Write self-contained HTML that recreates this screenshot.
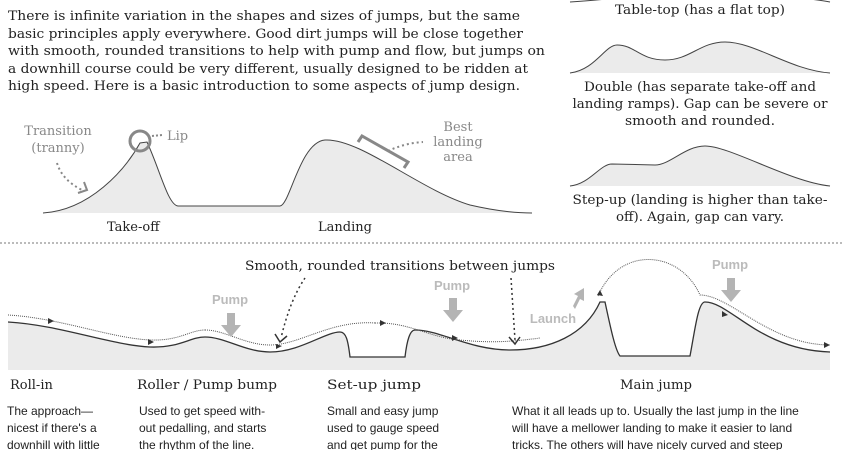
<!DOCTYPE html>
<html><head><meta charset="utf-8"><style>
html,body{margin:0;padding:0;background:#fff}
svg{display:block}
.s{font-family:"DejaVu Serif","Liberation Serif",serif;fill:#222}
.g{font-family:"DejaVu Serif","Liberation Serif",serif;fill:#888}
.n{font-family:"Liberation Sans",sans-serif;fill:#222}
.p{font-family:"Liberation Sans",sans-serif;fill:#bbb;font-weight:bold}
</style></head><body>
<svg width="843" height="450" viewBox="0 0 843 450" xmlns="http://www.w3.org/2000/svg">
<!-- intro text -->
<g class="s" font-size="13">
<text x="8" y="20" textLength="512" lengthAdjust="spacingAndGlyphs">There is infinite variation in the shapes and sizes of jumps, but the same</text>
<text x="8" y="38" textLength="515" lengthAdjust="spacingAndGlyphs">basic principles apply everywhere. Good dirt jumps will be close together</text>
<text x="8" y="55" textLength="537" lengthAdjust="spacingAndGlyphs">with smooth, rounded transitions to help with pump and flow, but jumps on</text>
<text x="8" y="73" textLength="520" lengthAdjust="spacingAndGlyphs">a downhill course could be very different, usually designed to be ridden at</text>
<text x="8" y="90" textLength="512" lengthAdjust="spacingAndGlyphs">high speed. Here is a basic introduction to some aspects of jump design.</text>
</g>
<!-- right column -->
<path d="M570,2 Q600,0 615,-2 M800,-2 Q820,0 830,2" stroke="#444" fill="none"/>
<text class="s" x="700" y="14" font-size="13" text-anchor="middle" textLength="170" lengthAdjust="spacingAndGlyphs">Table-top (has a flat top)</text>
<path d="M570,73 C595,70 605,45 617,45 C635,45 640,60 665,60 C690,60 700,42 725,42 C755,42 790,70 830,73 Z" fill="#ebebeb"/>
<path d="M570,73 C595,70 605,45 617,45 C635,45 640,60 665,60 C690,60 700,42 725,42 C755,42 790,70 830,73" stroke="#444" fill="none"/>
<g class="s" font-size="13" text-anchor="middle">
<text x="700" y="91" textLength="232" lengthAdjust="spacingAndGlyphs">Double (has separate take-off and</text>
<text x="700" y="108" textLength="255" lengthAdjust="spacingAndGlyphs">landing ramps). Gap can be severe or</text>
<text x="700" y="125" textLength="150" lengthAdjust="spacingAndGlyphs">smooth and rounded.</text>
</g>
<path d="M570,186 C590,184 600,164 612,164 L655,165 C670,165 685,146 705,146 C730,146 790,182 830,186 Z" fill="#ebebeb"/>
<path d="M570,186 C590,184 600,164 612,164 L655,165 C670,165 685,146 705,146 C730,146 790,182 830,186" stroke="#444" fill="none"/>
<g class="s" font-size="13" text-anchor="middle">
<text x="700" y="204" textLength="255" lengthAdjust="spacingAndGlyphs">Step-up (landing is higher than take-</text>
<text x="700" y="221" textLength="168" lengthAdjust="spacingAndGlyphs">off). Again, gap can vary.</text>
</g>
<!-- left diagram -->
<path d="M43,213 C90,210 125,170 140,143 L147,142 C160,170 168,205 178,206 L280,206 C290,205 300,142 325,140 C360,138 420,190 470,205 C500,212 520,213 532,213 Z" fill="#ebebeb"/>
<path d="M43,213 C90,210 125,170 140,143 L147,142 C160,170 168,205 178,206 L280,206 C290,205 300,142 325,140 C360,138 420,190 470,205 C500,212 520,213 532,213" stroke="#444" fill="none"/>
<circle cx="140" cy="141" r="10" stroke="#888" stroke-width="3" fill="none"/>
<path d="M152,136 L162,135" stroke="#888" stroke-width="2" stroke-dasharray="2,2"/>
<text class="g" x="167" y="140" font-size="13">Lip</text>
<text class="g" x="58" y="135" font-size="13" text-anchor="middle">Transition</text>
<text class="g" x="58" y="152" font-size="13" text-anchor="middle">(tranny)</text>
<path d="M57,163 Q62,180 82,190" stroke="#888" stroke-width="2" stroke-dasharray="2,3" fill="none"/>
<path d="M78,193 L87,190 L84,182" stroke="#888" stroke-width="2" fill="none"/>
<path d="M358,142 L362,136 L408,162 L404,168" stroke="#888" stroke-width="3" fill="none"/>
<path d="M388,151 Q405,143 423,142" stroke="#888" stroke-width="2" stroke-dasharray="2,3" fill="none"/>
<g class="g" font-size="13" text-anchor="middle">
<text x="458" y="131">Best</text><text x="458" y="146">landing</text><text x="458" y="161">area</text>
</g>
<text class="s" x="107" y="231" font-size="13">Take-off</text>
<text class="s" x="318" y="231" font-size="13">Landing</text>
<line x1="0" y1="243" x2="843" y2="243" stroke="#777" stroke-dasharray="2,2"/>
<!-- bottom course -->
<path d="M8,322 C60,325 110,345 150,347 C180,348 190,337 205,337 C225,337 245,352 270,352 C300,352 325,332 340,332 C346,332 348,340 350,357 L405,357 C407,340 410,330 415,330 C440,330 470,350 510,350 C550,350 585,335 600,302 L605,302 C610,325 615,350 620,356 L690,356 C695,330 698,302 705,302 C730,302 760,350 830,352 L830,370 L8,370 Z" fill="#ebebeb"/>
<path d="M8,322 C60,325 110,345 150,347 C180,348 190,337 205,337 C225,337 245,352 270,352 C300,352 325,332 340,332 C346,332 348,340 350,357 L405,357 C407,340 410,330 415,330 C440,330 470,350 510,350 C550,350 585,335 600,302 L605,302 C610,325 615,350 620,356 L690,356 C695,330 698,302 705,302 C730,302 760,350 830,352" stroke="#333" fill="none" stroke-width="1.3"/>
<path d="M8,315 C60,318 110,338 150,340 C180,341 190,330 205,330" stroke="#555" stroke-dasharray="1,1" fill="none"/>
<path d="M205,330 C225,330 245,345 270,345 C300,345 330,320 375,323" stroke="#555" stroke-dasharray="1,1" fill="none"/>
<path d="M375,323 C410,322 430,338 460,340 C490,343 510,342 540,338" stroke="#555" stroke-dasharray="1,1" fill="none"/>
<path d="M598,296 C620,245 680,250 700,295 C730,295 770,345 830,345" stroke="#555" stroke-dasharray="1,1" fill="none"/>
<path d="M48,318 l6,3 l-6,3z M148,339 l6,3 l-6,3z M276,344 l6,2 l-6,3z M380,320 l6,3 l-6,3z M452,335 l6,3 l-6,3z M600,290 l3,6 l-6,-1z M722,311 l6,4 l-6,2z M824,342 l6,3 l-6,3z" fill="#333"/>
<!-- pump arrows -->
<g fill="#b4b4b4">
<path d="M227,313 h8 v12 h6 l-10,12 l-10,-12 h6z"/>
<path d="M449,298 h8 v12 h6 l-10,12 l-10,-12 h6z"/>
<path d="M727,278 h8 v12 h6 l-10,12 l-10,-12 h6z"/>
<path d="M573,306 l5,-10 l-4,-2 l10,-6 l0,13 l-4,-2 l-5,10z"/>
</g>
<g class="p" font-size="13" text-anchor="middle">
<text x="230" y="304">Pump</text><text x="452" y="290">Pump</text><text x="730" y="269">Pump</text><text x="553" y="323">Launch</text>
</g>
<text class="s" x="400" y="270" font-size="13" text-anchor="middle" textLength="310" lengthAdjust="spacingAndGlyphs">Smooth, rounded transitions between jumps</text>
<path d="M305,278 Q290,300 281,338" stroke="#333" stroke-dasharray="2,3" fill="none" stroke-width="1.5"/>
<path d="M275,334 L280,342 L287,336" stroke="#333" stroke-width="1.5" fill="none"/>
<path d="M511,278 L515,340" stroke="#333" stroke-dasharray="2,3" fill="none" stroke-width="1.5"/>
<path d="M509,337 L515,344 L520,337" stroke="#333" stroke-width="1.5" fill="none"/>
<g class="s" font-size="13">
<text x="10" y="389">Roll-in</text><text x="137" y="389" textLength="140" lengthAdjust="spacingAndGlyphs">Roller / Pump bump</text>
<text x="327" y="389" textLength="94" lengthAdjust="spacingAndGlyphs">Set-up jump</text><text x="620" y="389" textLength="72" lengthAdjust="spacingAndGlyphs">Main jump</text>
</g>
<g class="n" font-size="12">
<text x="7" y="415">The approach—</text><text x="7" y="432">nicest if there's a</text><text x="7" y="449">downhill with little</text>
<text x="139" y="415">Used to get speed with-</text><text x="139" y="432">out pedalling, and starts</text><text x="139" y="449">the rhythm of the line.</text>
<text x="327" y="415">Small and easy jump</text><text x="327" y="432">used to gauge speed</text><text x="327" y="449">and get pump for the</text>
<text x="512" y="415">What it all leads up to. Usually the last jump in the line</text>
<text x="512" y="432">will have a mellower landing to make it easier to land</text>
<text x="512" y="449">tricks. The others will have nicely curved and steep</text>
</g>
</svg>
</body></html>
